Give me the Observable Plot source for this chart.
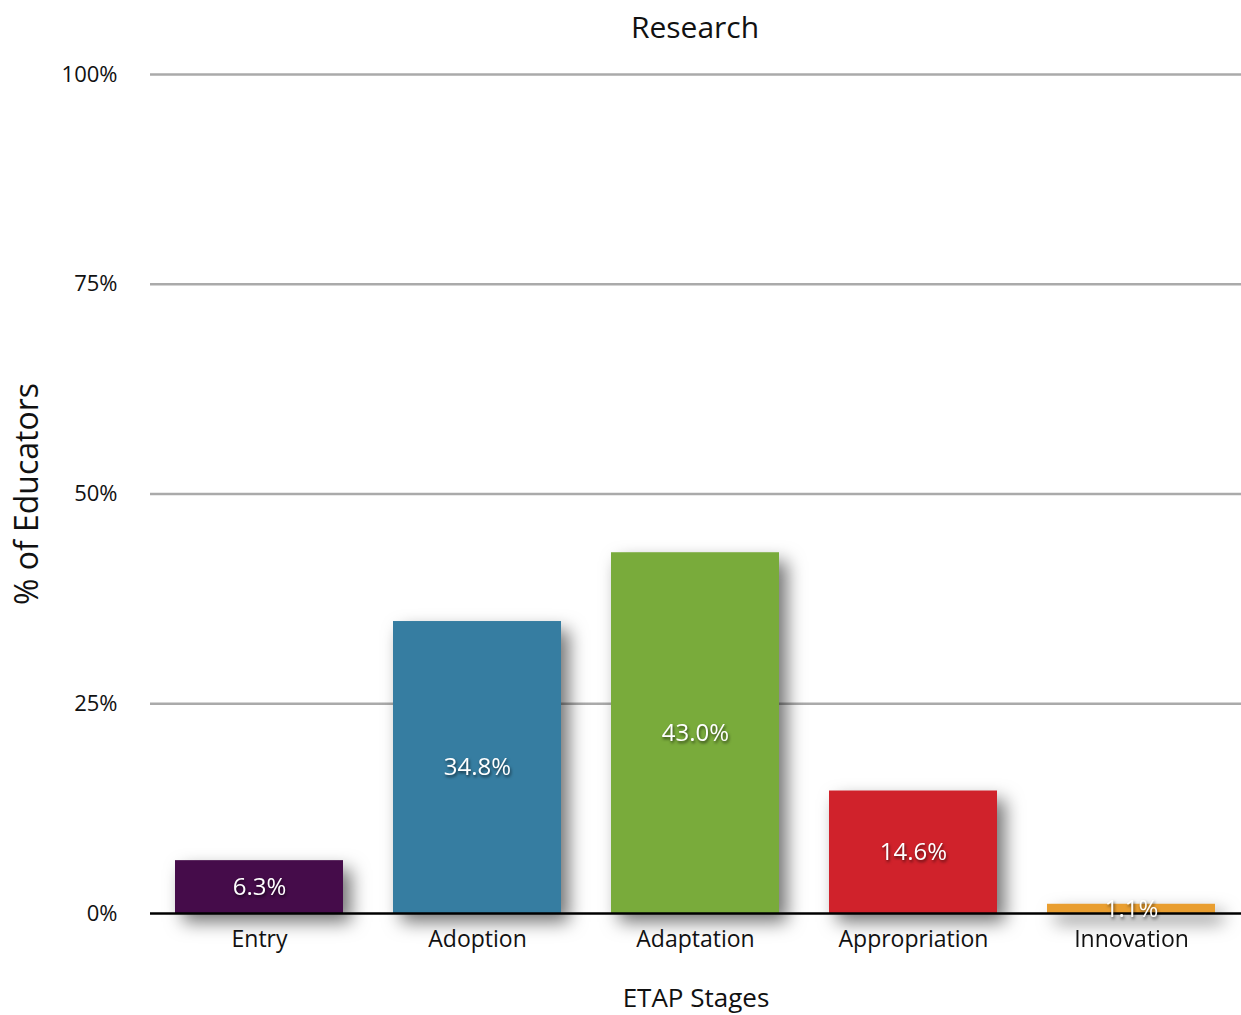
<!DOCTYPE html>
<html>
<head>
<meta charset="utf-8">
<script src="https://cdn.jsdelivr.net/npm/d3@7"></script>
<script src="https://cdn.jsdelivr.net/npm/@observablehq/plot@0.6"></script>
<style>
  html, body { margin: 0; padding: 0; background: #fff; }
  #chart svg { display: block; }
</style>
</head>
<body>
<div id="chart"></div>
<script>
const title = "Research";
const stages = ["Entry", "Adoption", "Adaptation", "Appropriation", "Innovation"];
const values = [6.3, 34.8, 43.0, 14.6, 1.1];
const colors = ["#450c4a", "#367da1", "#79ab3b", "#d0222b", "#e99e30"];
const yTicks = [0, 25, 50, 75, 100];
const xLabel = "ETAP Stages";
const yLabel = "% of Educators";

const data = stages.map((s, i) => ({stage: s, value: values[i]}));
const font = "'Open Sans', 'DejaVu Sans', sans-serif";

const chart = Plot.plot({
  width: 1241,
  height: 1015,
  marginLeft: 150,
  marginRight: 0,
  marginTop: 74,
  marginBottom: 102,
  style: {fontFamily: font, background: "#fff"},
  x: {domain: stages, paddingInner: 0.229, paddingOuter: 0.115, label: null},
  y: {domain: [0, 100], label: null},
  color: {domain: stages, range: colors},
  marks: [
    Plot.ruleY(yTicks.filter(d => d > 0), {stroke: "#aaaaaa", strokeWidth: 2.5}),
    Plot.barY(data, {x: "stage", y: "value", fill: "stage", className: "bars"}),
    Plot.ruleY([0], {stroke: "#000", strokeWidth: 2.5}),
    Plot.text(data, {x: "stage", y: d => d.value / 2, text: d => d.value.toFixed(1) + "%",
      fill: "#fff", fontSize: 24, className: "vals"}),
    Plot.axisY({ticks: yTicks, tickFormat: d => d + "%", tickSize: 0, tickPadding: 33,
      fontSize: 22, color: "#111", label: null}),
    Plot.axisX({tickSize: 0, tickPadding: 17, fontSize: 23, color: "#111", label: null}),
    Plot.text([yLabel], {frameAnchor: "left", dx: -123, rotate: -90, textAnchor: "middle", fontSize: 32, fill: "#111"}),
    Plot.text([xLabel], {frameAnchor: "bottom", dy: 93, fontSize: 26, fill: "#111"}),
    Plot.text([title], {frameAnchor: "top", dx: -1, dy: -58, fontSize: 30, fill: "#111"})
  ]
});

const bars = chart.querySelector("g.bars");
if (bars) bars.setAttribute("style", "filter: drop-shadow(8px 9px 9px rgba(0,0,0,0.55))");
const vals = chart.querySelector("g.vals");
if (vals) vals.setAttribute("style", "filter: drop-shadow(1px 2px 1.5px rgba(0,0,0,0.6))");

document.getElementById("chart").appendChild(chart);
</script>
</body>
</html>
